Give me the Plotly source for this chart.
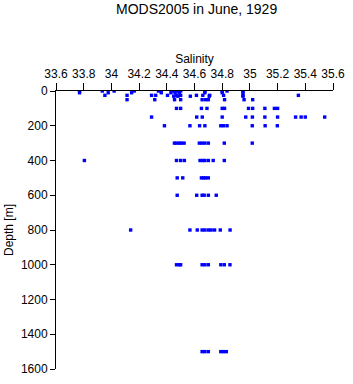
import plotly.graph_objects as go

# Salinity readings grouped by standard depth (m)
depth_levels = [0, 10, 25, 30, 50, 100, 150, 200, 300, 400, 500, 600, 800, 1000, 1500]
sal_0 = [33.77, 33.934, 34.02, 34.165, 34.34, 34.45, 34.47, 34.49, 34.5, 34.675, 34.8, 34.835, 34.95]
sal_10 = [33.77, 33.977, 34.146, 34.36, 34.43, 34.46, 34.49, 34.675, 34.8, 34.95]
sal_25 = [33.953, 34.113, 34.29, 34.32, 34.405, 34.47, 34.5, 34.614, 34.66, 34.71, 34.81, 34.95, 35.35]
sal_30 = [34.45, 34.48, 34.57, 34.706, 34.95]
sal_50 = [34.113, 34.313, 34.456, 34.5, 34.655, 34.68, 34.70, 34.817, 34.958, 35.02]
sal_100 = [34.47, 34.5, 34.65, 34.69, 34.8, 34.817, 34.99, 35.02, 35.108, 35.177, 35.2]
sal_150 = [34.29, 34.616, 34.656, 34.8, 34.97, 35.018, 35.108, 35.2, 35.33, 35.37, 35.4, 35.54]
sal_200 = [34.383, 34.567, 34.637, 34.675, 34.79, 34.81, 34.835, 35.017, 35.11, 35.198]
sal_300 = [34.455, 34.47, 34.49, 34.505, 34.525, 34.635, 34.655, 34.675, 34.7, 34.815, 35.017]
sal_400 = [33.805, 34.47, 34.5, 34.527, 34.64, 34.66, 34.675, 34.7, 34.735, 34.815]
sal_500 = [34.475, 34.515, 34.65, 34.665, 34.68, 34.7]
sal_600 = [34.475, 34.616, 34.655, 34.67, 34.7, 34.757]
sal_800 = [34.139, 34.567, 34.62, 34.655, 34.675, 34.70, 34.72, 34.745, 34.786, 34.857]
sal_1000 = [34.47, 34.49, 34.5, 34.655, 34.675, 34.7, 34.79, 34.815, 34.856]
sal_1500 = [34.655, 34.675, 34.7, 34.79, 34.81, 34.83]

groups = [sal_0, sal_10, sal_25, sal_30, sal_50, sal_100, sal_150, sal_200,
          sal_300, sal_400, sal_500, sal_600, sal_800, sal_1000, sal_1500]

xs, ys = [], []
for d, sals in zip(depth_levels, groups):
    for s in sals:
        xs.append(s)
        ys.append(d)

FONT = "Liberation Sans, Arial, sans-serif"

fig = go.Figure(go.Scatter(
    x=xs, y=ys, mode="markers",
    marker=dict(symbol="square", size=3.4, color="#0000ff", line=dict(width=0)),
    showlegend=False, hoverinfo="x+y"))

fig.update_layout(
    width=353, height=384,
    margin=dict(l=54, r=14, t=91, b=8),
    paper_bgcolor="white", plot_bgcolor="white",
    font=dict(family=FONT, size=12, color="black"),
    title=dict(text="MODS2005 in June, 1929", x=0.557, xanchor="center",
               y=0.976, yanchor="middle", font=dict(size=14, family=FONT)),
)
fig.update_xaxes(
    side="top", range=[33.6, 35.6], dtick=0.2, tick0=33.6,
    ticks="outside", ticklen=7, tickwidth=1, tickcolor="black",
    showline=True, linecolor="black", linewidth=1,
    showgrid=False, zeroline=False,
    title=dict(text="Salinity", standoff=1, font=dict(size=12, family=FONT)),
    tickfont=dict(size=12, family=FONT),
)
fig.update_yaxes(
    range=[1600, 0], dtick=200, tick0=0,
    ticks="outside", ticklen=5, tickwidth=1, tickcolor="black",
    showline=True, linecolor="black", linewidth=1,
    showgrid=False, zeroline=False,
    title=dict(text="Depth [m]", standoff=4, font=dict(size=12, family=FONT)),
    tickfont=dict(size=12, family=FONT),
)

fig.write_html("out.html")
